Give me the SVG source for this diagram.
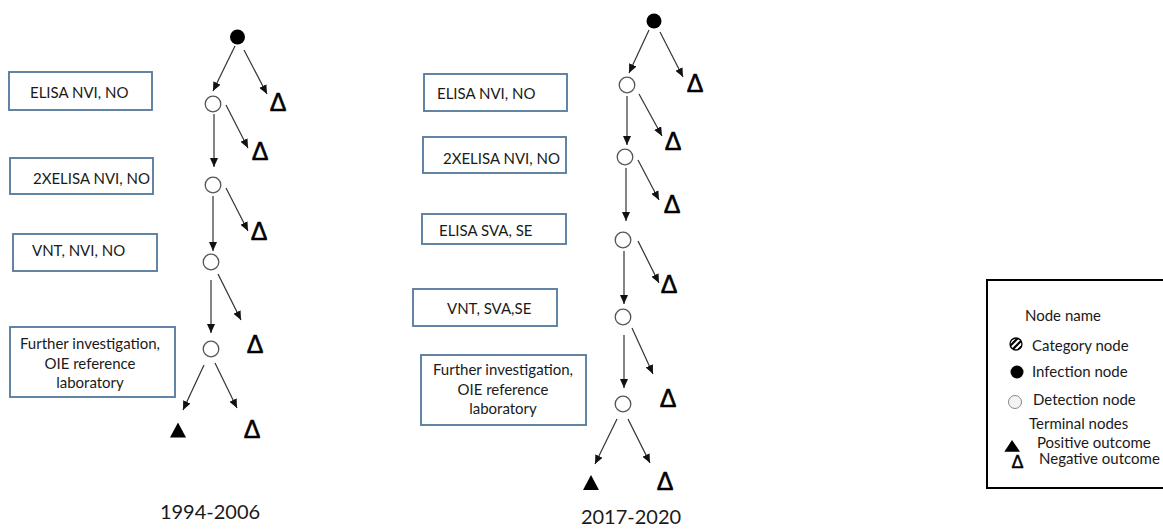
<svg xmlns="http://www.w3.org/2000/svg" width="1163" height="529" viewBox="0 0 1163 529">
<style>
.box{fill:#fff;stroke:#52779c;stroke-width:1.8}
.lbl{font-family:Lato,"Open Sans",sans-serif;font-size:15px;fill:#1a1a1a}
.ctr{text-anchor:middle}
.det{fill:#fff;stroke:#555;stroke-width:1.3}
.inf{fill:#000}
.neg{font-family:"Liberation Sans",Arial,sans-serif;font-size:25px;fill:#000;stroke:#000;stroke-width:0.6;text-anchor:middle}
.pos{fill:#000}
.yr{font-family:Lato,"Open Sans",sans-serif;font-size:20px;fill:#1a1a1a;text-anchor:middle}
.leg{font-family:Lato,"Open Sans",sans-serif;font-size:15px;fill:#1a1a1a}
.arr{stroke:#333;stroke-width:1.2;fill:none;marker-end:url(#ah)}
</style>
<defs>
<marker id="ah" markerUnits="userSpaceOnUse" markerWidth="10" markerHeight="8" refX="9" refY="4" orient="auto">
<path d="M0,0 L9,4 L0,8 Z" fill="#111"/>
</marker>
<clipPath id="catclip"><circle cx="1016" cy="344" r="6"/></clipPath>
</defs>
<rect width="1163" height="529" fill="#fff"/>

<g id="connectors">
<line class="arr" x1="235" y1="46" x2="213" y2="91"/>
<line class="arr" x1="244" y1="50" x2="267" y2="94"/>
<line class="arr" x1="214" y1="114" x2="214" y2="167"/>
<line class="arr" x1="226" y1="105" x2="248" y2="148"/>
<line class="arr" x1="213" y1="196" x2="213" y2="251"/>
<line class="arr" x1="226" y1="188" x2="248" y2="231"/>
<line class="arr" x1="211" y1="280" x2="211" y2="333"/>
<line class="arr" x1="218" y1="274" x2="241" y2="320"/>
<line class="arr" x1="204" y1="365" x2="183" y2="410"/>
<line class="arr" x1="215" y1="363" x2="237" y2="408"/>
<line class="arr" x1="649" y1="30" x2="629" y2="73"/>
<line class="arr" x1="660" y1="32" x2="683" y2="77"/>
<line class="arr" x1="627" y1="96" x2="627" y2="145"/>
<line class="arr" x1="639" y1="94" x2="662" y2="136"/>
<line class="arr" x1="626" y1="168" x2="626" y2="221"/>
<line class="arr" x1="638" y1="160" x2="659" y2="200"/>
<line class="arr" x1="624" y1="251" x2="624" y2="304"/>
<line class="arr" x1="638" y1="241" x2="659" y2="283"/>
<line class="arr" x1="624" y1="335" x2="624" y2="388"/>
<line class="arr" x1="632" y1="328" x2="653" y2="374"/>
<line class="arr" x1="617" y1="419" x2="595" y2="464"/>
<line class="arr" x1="628" y1="419" x2="650" y2="463"/>
</g>

<g id="L-box1"><rect class="box" x="9" y="72" width="143" height="38"/><text class="lbl" x="30" y="97.5">ELISA NVI, NO</text></g>
<g id="L-box2"><rect class="box" x="10" y="158" width="143" height="36"/><text class="lbl" x="33" y="183.5">2XELISA NVI, NO</text></g>
<g id="L-box3"><rect class="box" x="13" y="234" width="144" height="37"/><text class="lbl" x="32" y="256">VNT, NVI, NO</text></g>
<g id="L-box4"><rect class="box" x="10" y="327" width="165" height="70"/>
<text class="lbl ctr" x="90" y="349">Further investigation,</text>
<text class="lbl ctr" x="90" y="368.5">OIE reference</text>
<text class="lbl ctr" x="90" y="388">laboratory</text></g>

<g id="L-inf"><circle class="inf" cx="237.5" cy="37" r="7.5"/></g>
<g id="L-det1"><circle class="det" cx="213" cy="104" r="7.8"/></g>
<g id="L-det2"><circle class="det" cx="213" cy="185" r="7.8"/></g>
<g id="L-det3"><circle class="det" cx="211" cy="262" r="7.8"/></g>
<g id="L-det4"><circle class="det" cx="211" cy="349" r="7.8"/></g>
<g id="L-neg1"><text class="neg" x="278" y="110.5">Δ</text></g>
<g id="L-neg2"><text class="neg" x="260" y="160">Δ</text></g>
<g id="L-neg3"><text class="neg" x="259" y="240">Δ</text></g>
<g id="L-neg4"><text class="neg" x="255" y="353">Δ</text></g>
<g id="L-neg5"><text class="neg" x="252" y="437.5">Δ</text></g>
<g id="L-pos"><polygon class="pos" points="178,422.5 186,437.5 170,437.5"/></g>
<g id="L-year"><text class="yr" x="210" y="518.5">1994-2006</text></g>

<g id="R-box1"><rect class="box" x="424" y="74" width="143" height="37"/><text class="lbl" x="437" y="98.5">ELISA NVI, NO</text></g>
<g id="R-box2"><rect class="box" x="423" y="137" width="143" height="36"/><text class="lbl" x="443" y="163.5">2XELISA NVI, NO</text></g>
<g id="R-box3"><rect class="box" x="422" y="214" width="144" height="30"/><text class="lbl" x="439" y="236">ELISA SVA, SE</text></g>
<g id="R-box4"><rect class="box" x="413" y="289" width="144" height="37"/><text class="lbl" x="447" y="313.5">VNT, SVA,SE</text></g>
<g id="R-box5"><rect class="box" x="421" y="355" width="165" height="70"/>
<text class="lbl ctr" x="503" y="375">Further investigation,</text>
<text class="lbl ctr" x="503" y="395">OIE reference</text>
<text class="lbl ctr" x="503" y="414">laboratory</text></g>

<g id="R-inf"><circle class="inf" cx="654" cy="21" r="7.5"/></g>
<g id="R-det1"><circle class="det" cx="627" cy="85" r="7.8"/></g>
<g id="R-det2"><circle class="det" cx="625" cy="157" r="7.8"/></g>
<g id="R-det3"><circle class="det" cx="623" cy="240" r="7.8"/></g>
<g id="R-det4"><circle class="det" cx="623" cy="317" r="7.8"/></g>
<g id="R-det5"><circle class="det" cx="623" cy="404" r="7.8"/></g>
<g id="R-neg1"><text class="neg" x="695" y="92">Δ</text></g>
<g id="R-neg2"><text class="neg" x="673" y="150">Δ</text></g>
<g id="R-neg3"><text class="neg" x="672" y="213">Δ</text></g>
<g id="R-neg4"><text class="neg" x="669" y="293">Δ</text></g>
<g id="R-neg5"><text class="neg" x="668" y="406.5">Δ</text></g>
<g id="R-neg6"><text class="neg" x="665" y="490">Δ</text></g>
<g id="R-pos"><polygon class="pos" points="591,475 599,490 583,490"/></g>
<g id="R-year"><text class="yr" x="631" y="524">2017-2020</text></g>

<g id="legend">
<rect x="987" y="280" width="180" height="208" fill="#fff" stroke="#000" stroke-width="2"/>
<text class="leg" x="1025" y="320.5">Node name</text>
<g clip-path="url(#catclip)">
<circle cx="1016" cy="344" r="6" fill="#fff"/>
<path d="M1006,350 L1018,338 M1009,353 L1021,341 M1003,347 L1015,335 M1012,356 L1024,344" stroke="#000" stroke-width="2.2"/>
</g>
<circle cx="1016" cy="344" r="6" fill="none" stroke="#000" stroke-width="1.3"/>
<text class="leg" x="1032" y="351">Category node</text>
<circle cx="1017" cy="372" r="6.5" fill="#000"/>
<text class="leg" x="1032" y="377">Infection node</text>
<circle cx="1015" cy="402" r="6.5" fill="#f4f4f4" stroke="#888" stroke-width="1"/>
<text class="leg" x="1033" y="405">Detection node</text>
<text class="leg" x="1029" y="429">Terminal nodes</text>
<polygon points="1012,440 1020,451.7 1004.3,451.7" fill="#000"/>
<text class="leg" x="1037" y="448">Positive outcome</text>
<text class="neg" x="1017.5" y="467.7" style="font-size:18px;stroke-width:0.5">Δ</text>
<text class="leg" x="1039" y="464">Negative outcome</text>
</g>
</svg>
